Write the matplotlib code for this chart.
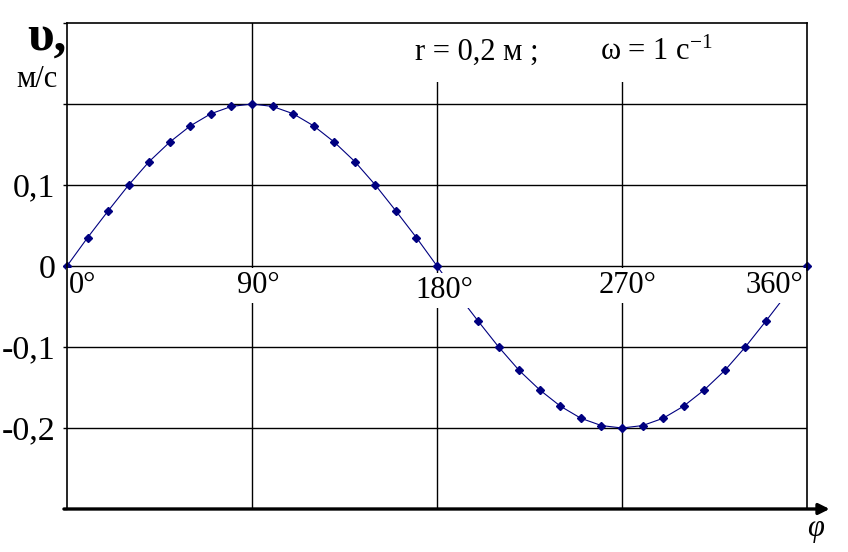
import matplotlib
matplotlib.use("Agg")
import matplotlib.pyplot as plt

plt.rcParams['font.family'] = ['Liberation Serif', 'DejaVu Serif']
plt.rcParams['mathtext.fontset'] = 'custom'
plt.rcParams['mathtext.rm'] = 'Liberation Serif'
plt.rcParams['mathtext.it'] = 'Liberation Serif:italic'

# angle, degrees, and speed, m/s
phi = [0, 10, 20, 30, 40, 50, 60, 70, 80, 90,
       100, 110, 120, 130, 140, 150, 160, 170, 180,
       190, 200, 210, 220, 230, 240, 250, 260, 270,
       280, 290, 300, 310, 320, 330, 340, 350, 360]
v = [0, 0.035, 0.068, 0.1, 0.129, 0.153, 0.173, 0.188, 0.197, 0.2,
     0.197, 0.188, 0.173, 0.153, 0.129, 0.1, 0.068, 0.035, 0,
     -0.035, -0.068, -0.1, -0.129, -0.153, -0.173, -0.188, -0.197, -0.2,
     -0.197, -0.188, -0.173, -0.153, -0.129, -0.1, -0.068, -0.035, 0]

y_ticks = [-0.3, -0.2, -0.1, 0, 0.1, 0.2, 0.3]
y_labels = ['', '-0,2', '-0,1', '0', '0,1', '', '']
x_lines = [90, 180, 270]
x_labels = ['0°', '90°', '180°', '270°', '360°']
x_label_pos = [0.8, 93, 183.5, 272.5, 358]

fig = plt.figure(figsize=(8.48, 5.52), dpi=100)
ax = fig.add_axes([67 / 848, 1 - 509 / 552, 740 / 848, 486 / 552])
ax.set_xlim(0, 360)
ax.set_ylim(-0.3, 0.3)

for s in ['left', 'top', 'right']:
    ax.spines[s].set_linewidth(1.2)
    ax.spines[s].set_color('black')
    ax.spines[s].set_zorder(6)
ax.spines['bottom'].set_visible(False)

ax.set_xticks([])
ax.set_yticks(y_ticks)
ax.set_yticklabels(y_labels, fontsize=24.5)
ax.tick_params(axis='y', length=3, width=1, pad=5.5)

for yv in [-0.2, -0.1, 0, 0.1, 0.2]:
    ax.axhline(yv, color='black', lw=1, zorder=1)
for xv in x_lines:
    ax.axvline(xv, color='black', lw=1, zorder=1)

ax.plot(phi, v, color='#000080', lw=0.8, marker='D', ms=4.2,
        mfc='#000080', mec='#000080', zorder=3, clip_on=False)

# degree labels sit on white boxes and hide the lines behind them
for xp, lab in zip(x_label_pos, x_labels):
    ha = 'left' if lab == '0°' else ('right' if lab == '360°' else 'center')
    yb = -0.0395 if lab == '180°' else -0.0333
    ax.text(xp, yb, lab, fontsize=22, ha=ha, va='baseline', zorder=4,
            bbox=dict(boxstyle='square,pad=0.1', fc='white', ec='none'))

# thick x axis with arrow
ax.annotate('', xy=(371, -0.3), xytext=(-1.5, -0.3),
            arrowprops=dict(arrowstyle='-|>', lw=2.4, color='black',
                            mutation_scale=16, shrinkA=0, shrinkB=0),
            annotation_clip=False, zorder=5)

ax.text(169.3, 0.2545, 'r = 0,2 м ;', fontsize=22, ha='left', va='baseline',
        zorder=4, bbox=dict(boxstyle='square,pad=0.5', fc='white', ec='none'))
ax.text(259.3, 0.2545, 'ω = 1 с$^{\\mathrm{-1}}$', fontsize=22, ha='left',
        va='baseline', zorder=4,
        bbox=dict(boxstyle='square,pad=0.5', fc='white', ec='none'))

ax.text(-19.5, 0.2667, 'υ,', fontsize=37, fontweight='bold', ha='left',
        va='baseline', clip_on=False)
ax.text(-24.5, 0.221, 'м/с', fontsize=22, ha='left', va='baseline',
        clip_on=False)
ax.text(364.4, -0.333, '$\\varphi$', fontsize=22, ha='center', va='baseline',
        clip_on=False)

fig.savefig('out.png', dpi=100)
